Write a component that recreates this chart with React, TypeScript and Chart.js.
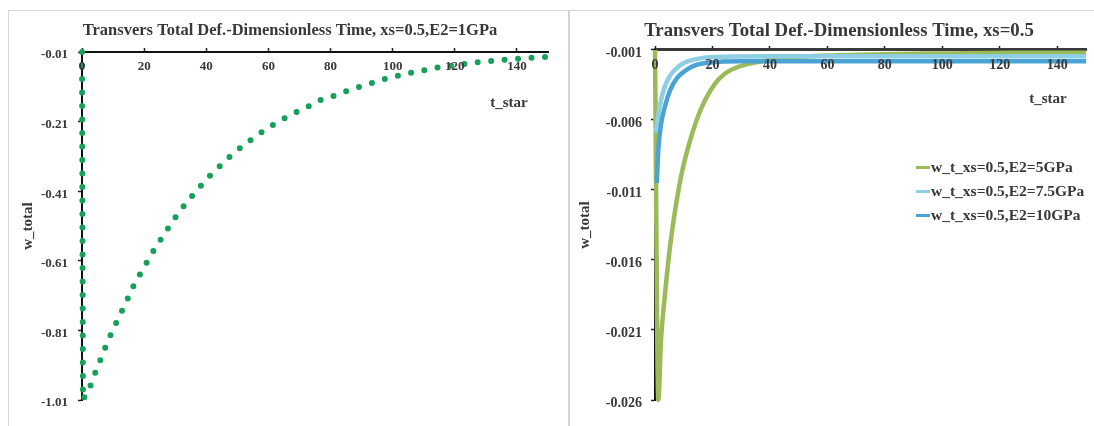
import React, { useEffect, useRef } from "react";
import { Chart, registerables } from "chart.js";

Chart.register(...registerables);

// ---------- data ----------
const X_TICKS = [0, 20, 40, 60, 80, 100, 120, 140];
const LEFT_Y_TICKS = [-1.01, -0.81, -0.61, -0.41, -0.21, -0.01];
const RIGHT_Y_TICKS = [-0.026, -0.021, -0.016, -0.011, -0.006, -0.001];

const LEFT_TITLE = "Transvers Total Def.-Dimensionless Time, xs=0.5,E2=1GPa";
const RIGHT_TITLE = "Transvers Total Def.-Dimensionless Time, xs=0.5";
const X_NAME = "t_star";
const Y_NAME = "w_total";

// E2 = 1GPa
const E1_T = [0, 0.3, 2.5, 4.2, 6.0, 7.8, 9.8, 11.9, 14.1, 16.0, 18.4, 20.9, 23.3, 25.9, 28.6, 31.3, 34.5, 37.7, 40.9, 44.4, 47.9, 51.7, 55.5, 59.5, 63.7, 67.8, 72.6, 76.7, 81, 85.5, 90, 94.7, 99.3, 104.2, 108.7, 113.5, 118.2, 123.2, 128, 132.6, 137.5, 142.3, 146.9, 150];
const E1_W = [-0.01, -1.01, -0.974, -0.933, -0.893, -0.852, -0.811, -0.771, -0.732, -0.692, -0.653, -0.614, -0.577, -0.541, -0.504, -0.469, -0.433, -0.4, -0.368, -0.338, -0.308, -0.28, -0.255, -0.23, -0.208, -0.188, -0.168, -0.148, -0.136, -0.121, -0.108, -0.095, -0.083, -0.073, -0.065, -0.056, -0.05, -0.044, -0.039, -0.035, -0.031, -0.028, -0.025, -0.024];

const SERIES_LABELS = ["w_t_xs=0.5,E2=5GPa", "w_t_xs=0.5,E2=7.5GPa", "w_t_xs=0.5,E2=10GPa"];
const SERIES_COLORS = ["#9bbb59", "#8ecfe6", "#4aa3d3"];

const E5_T = [0, 1.15, 2.1, 3.5, 5.2, 7.2, 9.3, 11.6, 14.5, 17.4, 20.9, 24.3, 29, 34.8, 40, 50, 60, 80, 100, 125, 150];
const E5_W = [-0.001, -0.026, -0.0217, -0.0184, -0.0151, -0.0122, -0.0098, -0.0079, -0.006, -0.0046, -0.0034, -0.0027, -0.0022, -0.0019, -0.0017, -0.0015, -0.0014, -0.0013, -0.00125, -0.0012, -0.0012];

const E75_T = [0.3, 1.4, 2.8, 4.5, 7, 10.4, 15.7, 25, 40, 70, 100, 150];
const E75_W = [-0.0069, -0.0053, -0.004, -0.0031, -0.0024, -0.0019, -0.0016, -0.00148, -0.00145, -0.00145, -0.00145, -0.00145];

const E10_T = [0.6, 1.2, 2.1, 3.5, 5.2, 7.7, 10.4, 13.9, 19, 30, 50, 80, 110, 150];
const E10_W = [-0.0105, -0.008, -0.0063, -0.005, -0.0039, -0.003, -0.0025, -0.0021, -0.0019, -0.0018, -0.0018, -0.0018, -0.0018, -0.0018];

// ---------- styles ----------
const FONT = '"Liberation Serif", "Times New Roman", serif';
const TEXT = "#383838";

const pts = (t: number[], w: number[]) => t.map((v, i) => ({ x: v, y: w[i] }));

const axisNamePlugin = {
  id: "axisName",
  afterDraw(chart: any, _args: any, o: any) {
    const { ctx, chartArea } = chart;
    ctx.save();
    ctx.font = `bold 15px ${FONT}`;
    ctx.fillStyle = TEXT;
    ctx.textAlign = "center";
    ctx.textBaseline = "middle";
    ctx.fillText(o.text, chartArea.right + o.dx, chartArea.top + o.dy);
    ctx.restore();
  },
};

function xAxis(h: number, fontSize: number, axisColor: string, axisWidth: number) {
  const lh = fontSize * 1.2;
  return {
    type: "linear",
    position: "top",
    min: 0,
    max: 150,
    afterBuildTicks: (s: any) => {
      s.ticks = X_TICKS.map((v) => ({ value: v }));
    },
    afterFit: (s: any) => {
      s.height = h;
    },
    grid: { display: true, drawOnChartArea: false, drawTicks: true, tickLength: 4, tickColor: "#222", tickWidth: 1.5 },
    border: { display: true, color: axisColor, width: axisWidth },
    ticks: {
      mirror: true,
      z: 1,
      padding: 15 - lh / 2,
      maxRotation: 0,
      autoSkip: false,
      color: TEXT,
      font: { family: FONT, size: fontSize, weight: "bold" },
      callback: (v: any) => String(v),
    },
  };
}

function yAxis(min: number, max: number, ticksArr: number[], digits: number, width: number, pad: number, fontSize: number, titlePad: number) {
  return {
    type: "linear",
    position: "left",
    min,
    max,
    afterBuildTicks: (s: any) => {
      s.ticks = ticksArr.map((v) => ({ value: v }));
    },
    afterFit: (s: any) => {
      s.width = width;
    },
    grid: { display: true, drawOnChartArea: false, drawTicks: true, tickLength: 4, tickColor: "#222", tickWidth: 1.5 },
    border: { display: true, color: "#111", width: 2 },
    ticks: {
      padding: pad,
      labelOffset: 3,
      color: TEXT,
      font: { family: FONT, size: fontSize, weight: "bold" },
      callback: (v: any) => Number(v).toFixed(digits),
    },
    title: {
      display: true,
      text: Y_NAME,
      color: TEXT,
      font: { family: FONT, size: 15, weight: "bold" },
      padding: { top: titlePad, bottom: 0 },
    },
  };
}

function useChart(ref: React.RefObject<HTMLCanvasElement>, build: () => any) {
  useEffect(() => {
    if (!ref.current) return;
    const chart = new Chart(ref.current, build());
    return () => chart.destroy();
  }, []);
}

function LeftChart() {
  const ref = useRef<HTMLCanvasElement>(null);
  useChart(ref, () => ({
    type: "line",
    data: {
      datasets: [
        {
          label: "w_t_xs=0.5,E2=1GPa",
          data: pts(E1_T, E1_W),
          borderColor: "#16a05c",
          borderWidth: 6,
          borderDash: [0, 13.5],
          borderCapStyle: "round",
          pointRadius: 0,
          tension: 0,
          clip: false,
        },
      ],
    },
    options: {
      responsive: false,
      animation: false,
      events: [],
      layout: { padding: { left: 23, top: 0, right: 19, bottom: 26 } },
      scales: {
        x: xAxis(41 - (10.2 + 19.8), 13, "#111", 2),
        y: yAxis(-1.01, -0.01, LEFT_Y_TICKS, 2, 50, 10, 13, -13),
      },
      plugins: {
        legend: { display: false },
        tooltip: { enabled: false },
        title: {
          display: true,
          text: LEFT_TITLE,
          color: TEXT,
          font: { family: FONT, size: 16.5, weight: "bold", lineHeight: 1.2 },
          padding: { top: 10.2, bottom: 0 },
        },
        axisName: { text: X_NAME, dx: -39, dy: 51 },
      },
    },
    plugins: [axisNamePlugin],
  }));
  return <canvas ref={ref} width={558} height={415} style={{ display: "block", width: 558, height: 415 }} />;
}

function RightChart() {
  const ref = useRef<HTMLCanvasElement>(null);
  useChart(ref, () => ({
    type: "line",
    data: {
      datasets: [
        { label: SERIES_LABELS[0], data: pts(E5_T, E5_W), borderColor: SERIES_COLORS[0], borderWidth: 4.5, pointRadius: 0, cubicInterpolationMode: "monotone", clip: false, order: 3 },
        { label: SERIES_LABELS[1], data: pts(E75_T, E75_W), borderColor: SERIES_COLORS[1], borderWidth: 4.5, pointRadius: 0, cubicInterpolationMode: "monotone", clip: false, order: 2 },
        { label: SERIES_LABELS[2], data: pts(E10_T, E10_W), borderColor: SERIES_COLORS[2], borderWidth: 4.5, pointRadius: 0, cubicInterpolationMode: "monotone", clip: false, order: 1 },
      ],
    },
    options: {
      responsive: false,
      animation: false,
      events: [],
      layout: { padding: { left: 22, top: 0, right: 8, bottom: 26 } },
      scales: {
        x: xAxis(39 - (8.7 + 22.6), 14, "#3a3a3a", 3),
        y: yAxis(-0.026, -0.001, RIGHT_Y_TICKS, 3, 63, 9, 14, -16),
      },
      plugins: {
        legend: { display: false },
        tooltip: { enabled: false },
        title: {
          display: true,
          text: RIGHT_TITLE,
          color: TEXT,
          font: { family: FONT, size: 18.8, weight: "bold", lineHeight: 1.2 },
          padding: { top: 8.7, bottom: 0 },
        },
        axisName: { text: X_NAME, dx: -38, dy: 49 },
      },
    },
    plugins: [axisNamePlugin],
  }));
  return <canvas ref={ref} width={524} height={415} style={{ display: "block", width: 524, height: 415 }} />;
}

export default function App() {
  return (
    <div style={{ position: "fixed", left: 0, top: 0, width: 1094, height: 426, background: "#fff", overflow: "hidden" }}>
      <div style={{ position: "absolute", left: 8, top: 10, width: 559, height: 420, borderLeft: "1px solid #d9d9d9", borderTop: "1px solid #d9d9d9" }}>
        <LeftChart />
      </div>
      <div style={{ position: "absolute", left: 568, top: 10, width: 526, height: 420, borderLeft: "2px solid #d4d4d4", borderTop: "1px solid #d9d9d9" }}>
        <RightChart />
      </div>
      {SERIES_LABELS.map((lab, i) => (
        <div
          key={lab}
          style={{
            position: "absolute",
            left: 916,
            top: 157 + 24 * i,
            height: 20,
            display: "flex",
            alignItems: "center",
            font: `bold 15.5px ${FONT}`,
            color: TEXT,
            whiteSpace: "nowrap",
          }}
        >
          <span style={{ display: "inline-block", width: 14, height: 3, background: SERIES_COLORS[i], marginRight: 1 }} />
          {lab}
        </div>
      ))}
    </div>
  );
}
